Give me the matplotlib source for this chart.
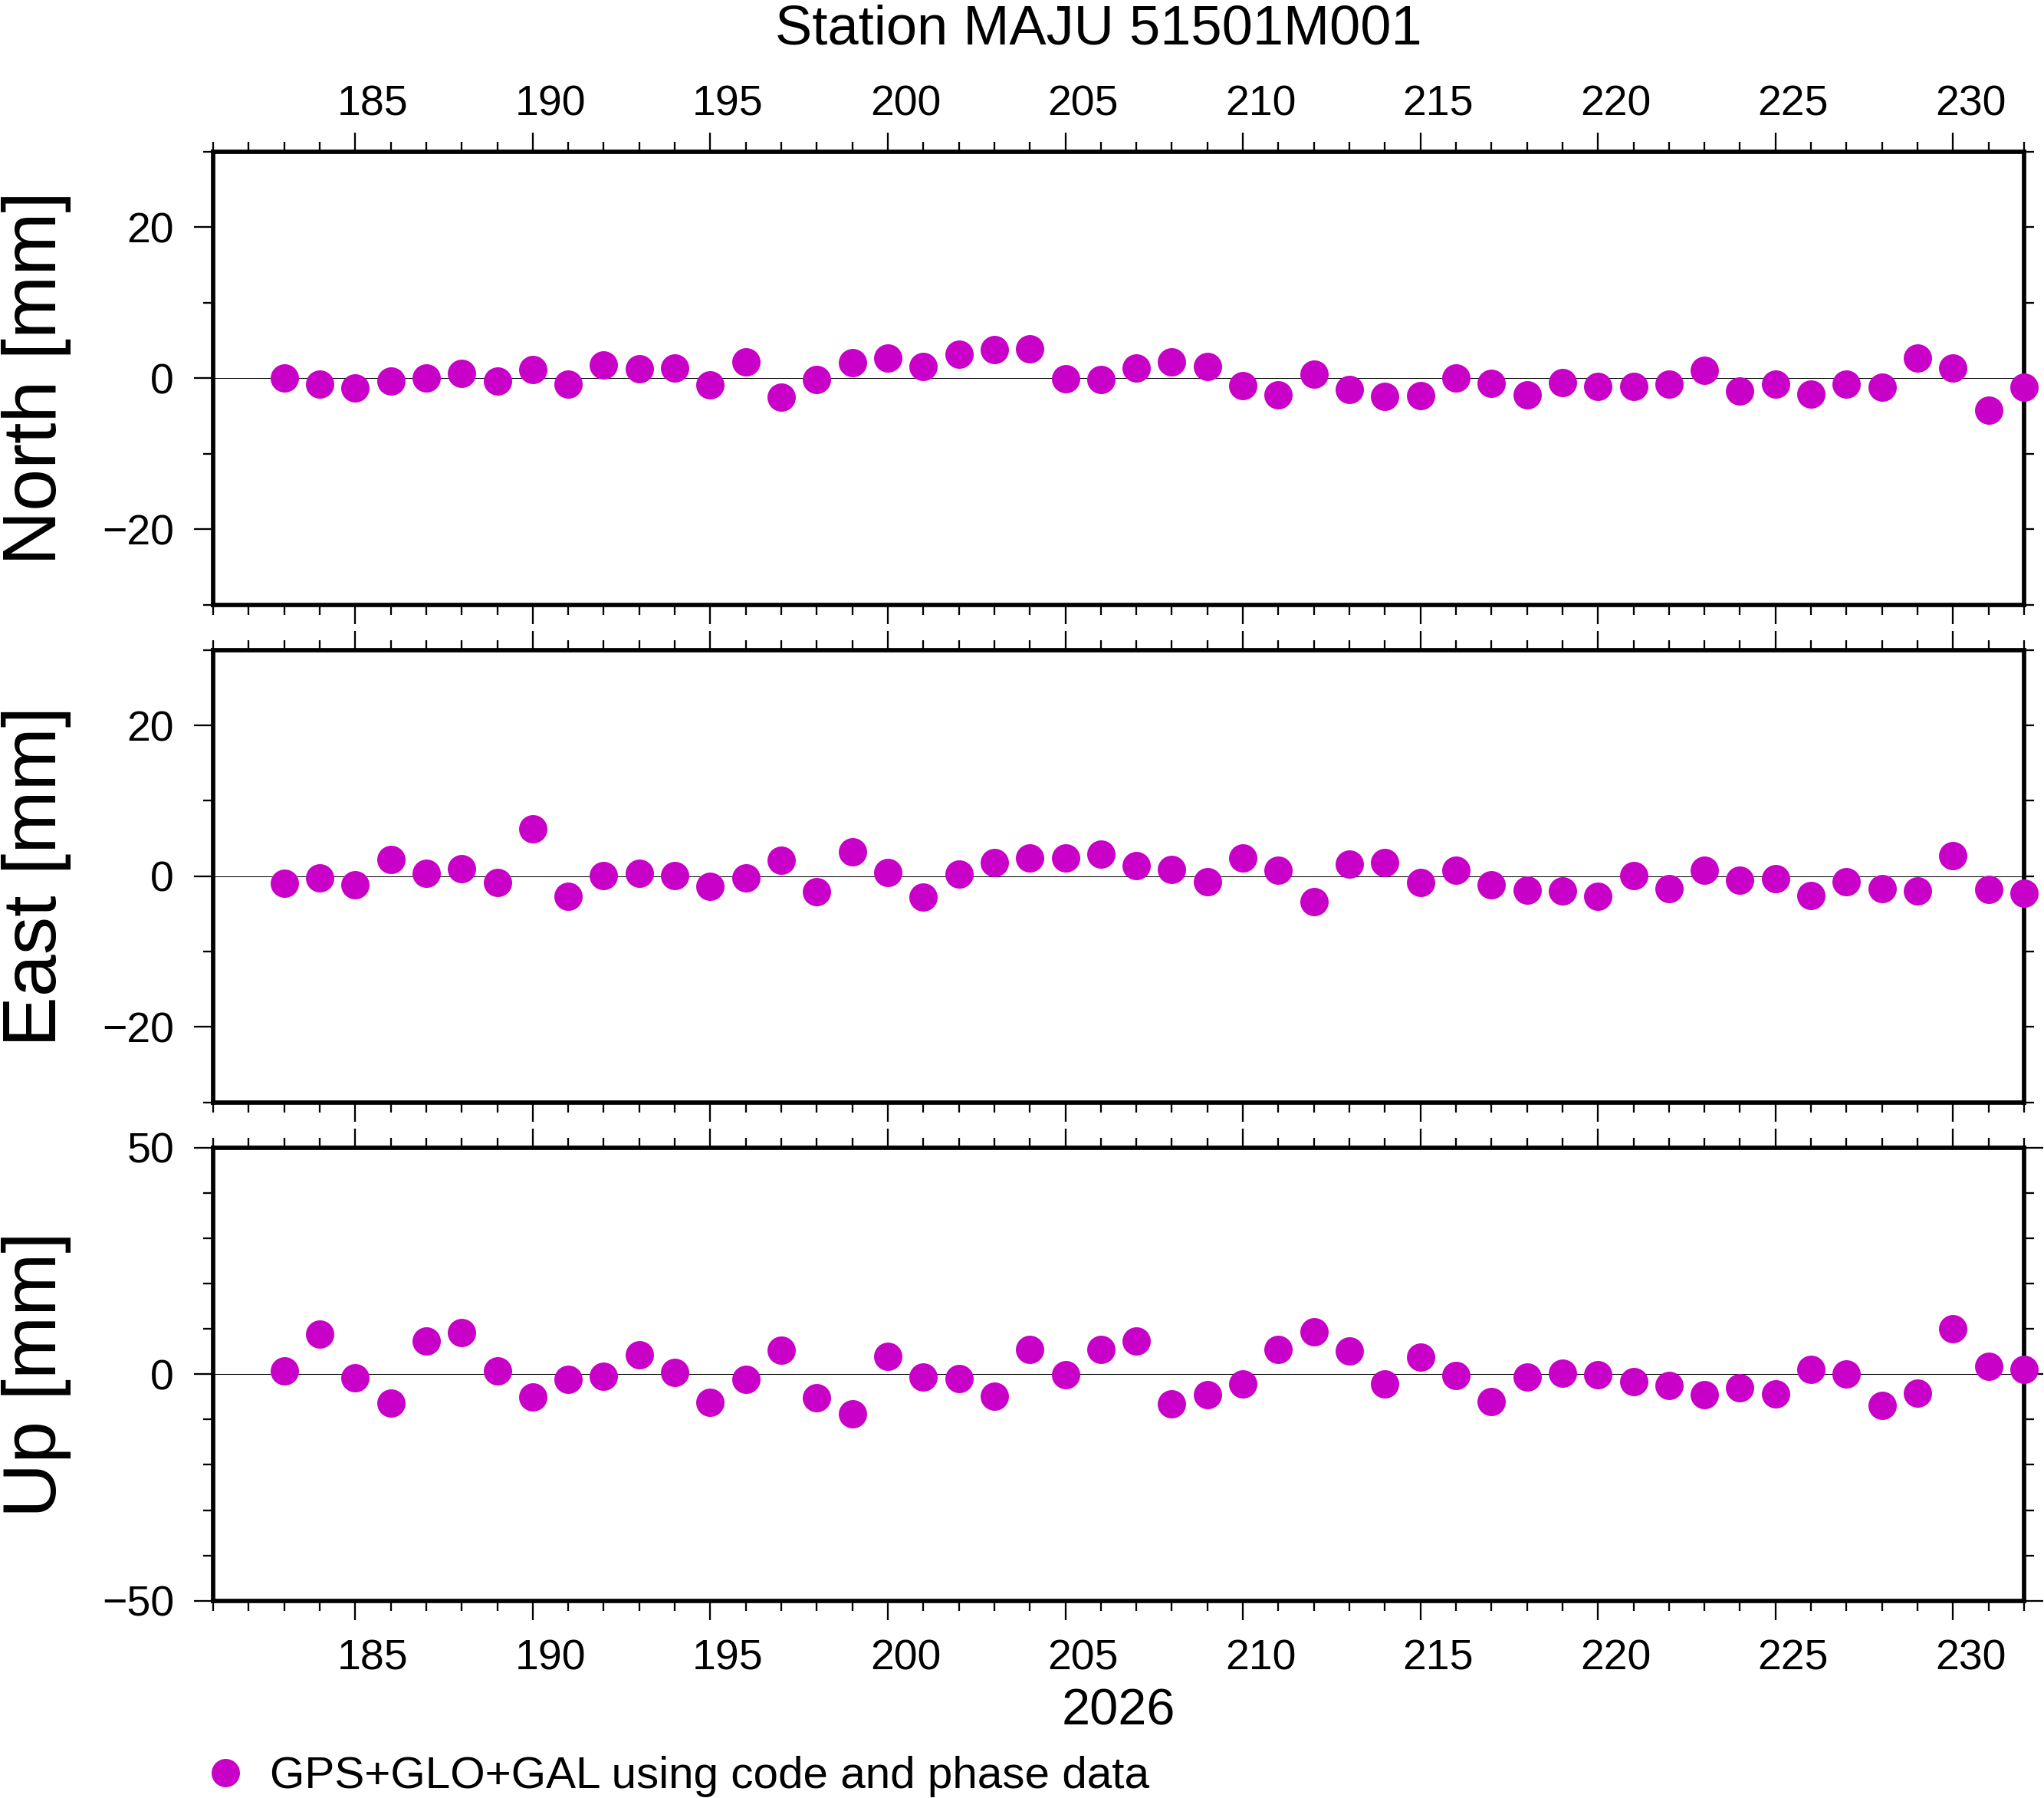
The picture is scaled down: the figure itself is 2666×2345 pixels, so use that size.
import matplotlib
matplotlib.use("Agg")
import matplotlib.pyplot as plt
import numpy as np
from matplotlib.ticker import MultipleLocator
from matplotlib.lines import Line2D

plt.rcParams['font.family'] = ['Liberation Sans', 'DejaVu Sans']

# daily solutions, day of year 2026
doy = np.arange(183, 233)

north = [0.0, -0.75, -1.25, -0.4, 0.0, 0.6, -0.4, 1.1, -0.75, 1.8,
         1.2, 1.3, -0.85, 2.2, -2.55, -0.2, 2.1, 2.65, 1.6, 3.15,
         3.75, 3.85, -0.1, -0.2, 1.3, 2.2, 1.5, -1.0, -2.2, 0.5,
         -1.5, -2.45, -2.35, 0.0, -0.7, -2.2, -0.6, -1.1, -1.1, -0.8,
         1.0, -1.7, -0.8, -2.15, -0.8, -1.2, 2.65, 1.3, -4.25, -1.15]

east = [-0.9, -0.2, -1.1, 2.2, 0.4, 1.0, -0.8, 6.3, -2.65, 0.1,
        0.4, 0.1, -1.4, -0.2, 2.1, -2.05, 3.25, 0.5, -2.75, 0.3,
        1.75, 2.45, 2.45, 2.95, 1.4, 0.9, -0.7, 2.45, 0.8, -3.4,
        1.6, 1.8, -0.8, 0.8, -1.1, -1.85, -1.95, -2.65, 0.1, -1.65,
        0.8, -0.5, -0.3, -2.55, -0.7, -1.65, -1.95, 2.75, -1.75, -2.25]

up = [0.7, 8.8, -0.85, -6.4, 7.3, 9.1, 0.7, -5.1, -1.2, -0.5,
      4.2, 0.35, -6.2, -1.2, 5.2, -5.25, -8.8, 3.9, -0.7, -1.0,
      -4.9, 5.4, -0.15, 5.4, 7.3, -6.6, -4.6, -2.2, 5.4, 9.4,
      5.1, -2.2, 3.7, -0.35, -6.1, -0.7, 0.15, -0.15, -1.7, -2.5,
      -4.6, -3.05, -4.4, 1.0, 0.0, -6.9, -4.2, 10.0, 1.7, 1.0]

components = ["North [mm]", "East [mm]", "Up [mm]"]
series = [north, east, up]
ylims = [(-30, 30), (-30, 30), (-50, 50)]
ymajor = [20, 20, 50]
day_labels = [185, 190, 195, 200, 205, 210, 215, 220, 225, 230]
title = "Station MAJU 51501M001"
year_label = "2026"
legend_label = "GPS+GLO+GAL using code and phase data"

W, H = 2666, 2345
color = "#c800c8"
spine_w = 4.1
tick_w = 1.65
major_len = 18
minor_len = 9.4

fig = plt.figure(figsize=(W / 100, H / 100), dpi=100)

# panel rectangles in pixels (top, bottom)
left_px, right_px = 278, 2640
panels_px = [(198, 788.5), (847.7, 1437.7), (1496.7, 2087.7)]

axes = []
for i, (top, bot) in enumerate(panels_px):
    ax = fig.add_axes([left_px / W, 1 - bot / H, (right_px - left_px) / W, (bot - top) / H])
    axes.append(ax)

    ax.axhline(0, color="black", lw=0.75, zorder=1)
    ax.plot(doy, series[i], "o", color=color, markersize=26.6,
            markeredgewidth=0, clip_on=False, zorder=3)

    ax.set_xlim(181, 232)
    ax.set_ylim(*ylims[i])

    ax.xaxis.set_major_locator(MultipleLocator(5))
    ax.xaxis.set_minor_locator(MultipleLocator(1))
    ax.yaxis.set_major_locator(MultipleLocator(ymajor[i]))
    ax.yaxis.set_minor_locator(MultipleLocator(10))

    for s in ax.spines.values():
        s.set_linewidth(spine_w)

    ax.tick_params(which="both", direction="out", top=True, bottom=True,
                   labelbottom=False, labeltop=False, width=tick_w)
    ax.tick_params(which="major", length=major_len)
    ax.tick_params(which="minor", length=minor_len)
    ax.tick_params(axis="y", which="major", labelsize=40, pad=18.7)

    if i == 2:
        ax.tick_params(axis="y", which="both", right=True)
    else:
        sec_y = ax.secondary_yaxis("right")
        sec_y.set_yticks(np.arange(ylims[i][0], ylims[i][1] + 1, 10))
        sec_y.tick_params(direction="out", length=minor_len, width=tick_w,
                          labelright=False)
        sec_y.spines["right"].set_visible(False)

    fig.text(73 / W, 1 - (top + bot) / 2 / H, components[i], rotation=90,
             rotation_mode="anchor", ha="center", va="baseline", fontsize=71)

# day labels sit in the middle of each day interval
shift = (lambda x: x - 0.5, lambda x: x + 0.5)
sec_top = axes[0].secondary_xaxis("top", functions=shift)
sec_bot = axes[2].secondary_xaxis("bottom", functions=shift)
for sec, pad in [(sec_top, 25.4), (sec_bot, 35.5)]:
    sec.set_xticks(day_labels)
    sec.xaxis.set_minor_locator(MultipleLocator(1000))
    sec.tick_params(which="both", length=0, pad=pad, labelsize=40)
    for s in sec.spines.values():
        s.set_visible(False)

fig.text(1433 / W, 1 - 57 / H, title, ha="center", va="baseline", fontsize=52)
fig.text((left_px + right_px) / 2 / W, 1 - 2250 / H, year_label,
         ha="center", va="baseline", fontsize=48)

handle = Line2D([], [], linestyle="none", marker="o", color=color,
                markersize=26.6, markeredgewidth=0)
fig.legend([handle], [legend_label], loc="center left",
           bbox_to_anchor=(276.5 / W, 1 - 2317 / H), frameon=False,
           fontsize=42, handlelength=0.6, handletextpad=0.69,
           borderpad=0, borderaxespad=0)

fig.savefig("out.png", dpi=100, facecolor="white")
